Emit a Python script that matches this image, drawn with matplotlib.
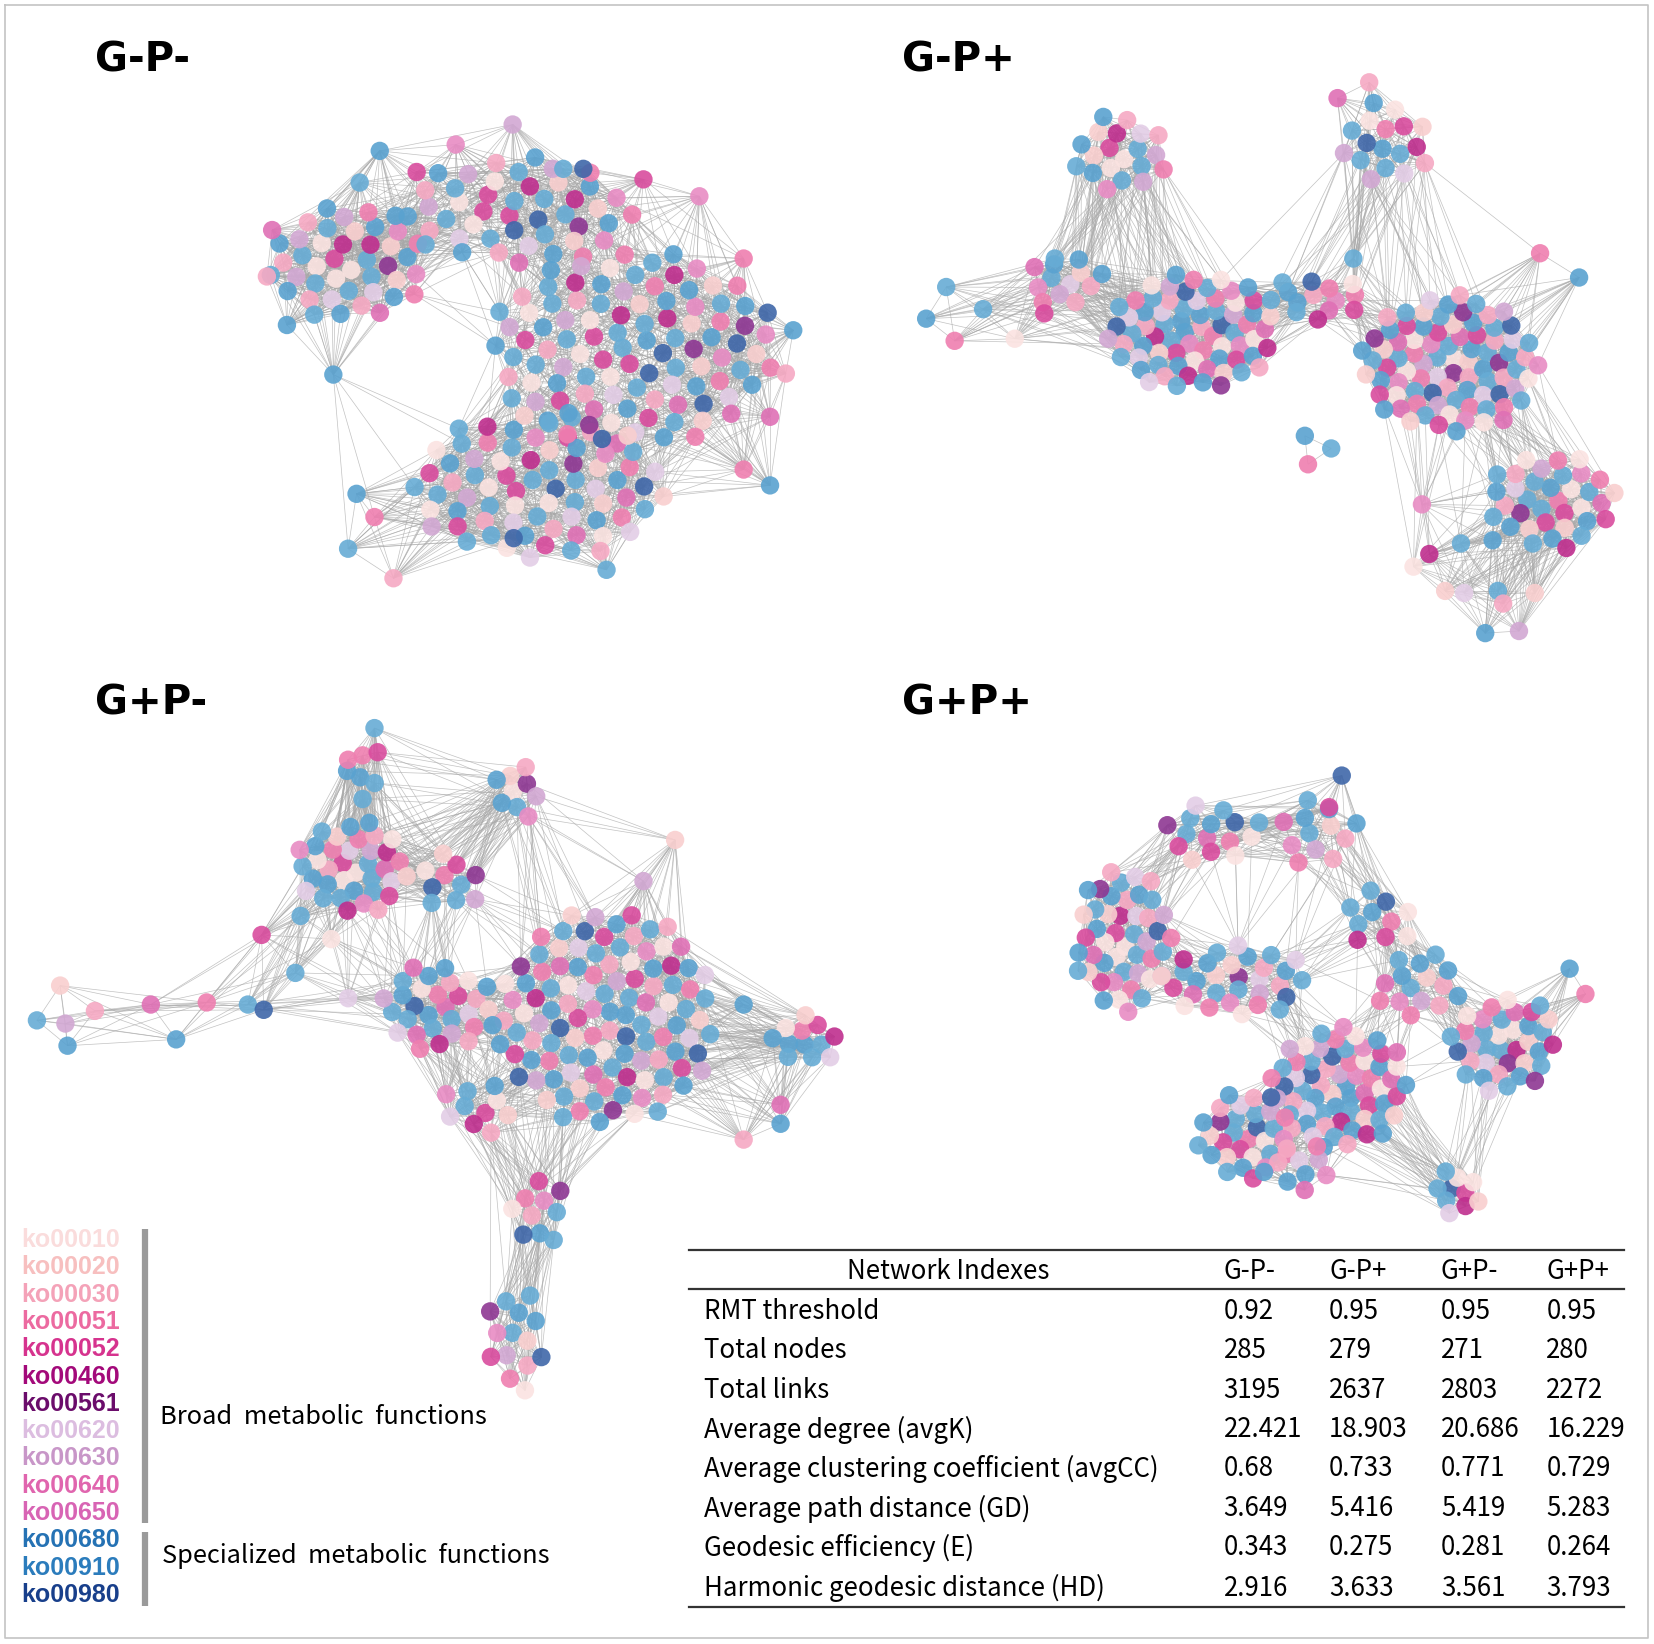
import numpy as np
import matplotlib
matplotlib.use("Agg")
from matplotlib import pyplot as plt
from matplotlib.collections import LineCollection

# ---- legend: KEGG pathways and colours ----
ko_names = ['ko00010', 'ko00020', 'ko00030', 'ko00051', 'ko00052', 'ko00460', 'ko00561',
            'ko00620', 'ko00630', 'ko00640', 'ko00650', 'ko00680', 'ko00910', 'ko00980']
ko_label_colors = ['#fadcdc', '#f7bfbf', '#f4a2b8', '#ec6aa0', '#d6338e', '#a3097a', '#6b0c6b',
                   '#dcbde0', '#c896c8', '#e065ae', '#d864b4', '#2572b4', '#2b7cbc', '#183f8b']
ko_node_colors = ['#fbe3e1', '#f9cfcf', '#f6a9c3', '#ef7fb0', '#d94c9e', '#bf2e8e', '#8e3793',
                  '#e3cde6', '#d2a8d3', '#e88cc4', '#df70b5', '#67acd5', '#5aa2d0', '#3f67a9']
group_names = ['Broad  metabolic  functions', 'Specialized  metabolic  functions']

# ---- table ----
panel_names = ['G-P-', 'G-P+', 'G+P-', 'G+P+']
index_names = ['RMT threshold', 'Total nodes', 'Total links', 'Average degree (avgK)',
               'Average clustering coefficient (avgCC)', 'Average path distance (GD)',
               'Geodesic efficiency (E)', 'Harmonic geodesic distance (HD)']
rmt = [0.92, 0.95, 0.95, 0.95]
total_nodes = [285, 279, 271, 280]
total_links = [3195, 2637, 2803, 2272]
avg_k = [22.421, 18.903, 20.686, 16.229]
avg_cc = [0.68, 0.733, 0.771, 0.729]
avg_gd = [3.649, 5.416, 5.419, 5.283]
geo_e = [0.343, 0.275, 0.281, 0.264]
harm_hd = [2.916, 3.633, 3.561, 3.793]

# node count per pathway in each network
ko_counts_gpm = [22, 18, 22, 20, 18, 10, 6, 14, 16, 12, 10, 60, 45, 12]
ko_counts_gpp = [24, 18, 24, 22, 16, 8, 6, 14, 14, 12, 10, 58, 45, 8]
ko_counts_gqm = [22, 16, 22, 22, 16, 8, 6, 14, 14, 10, 10, 56, 45, 10]
ko_counts_gqp = [24, 18, 22, 22, 16, 8, 6, 14, 14, 12, 10, 58, 44, 12]

# ---- network layouts (page pixels): dense modules as ellipses + loose nodes ----
gpm_blob_x = [330, 490, 600, 510]
gpm_blob_y = [250, 200, 330, 460]
gpm_blob_rx = [80, 120, 145, 130]
gpm_blob_ry = [60, 55, 100, 75]
gpm_blob_n = [42, 45, 100, 73]
gpm_pts_x = [486, 316, 373, 663, 752, 745, 432, 360, 253, 258, 272, 705, 730, 730, 705,
             330, 338, 355, 575, 487, 610, 534, 553, 395, 341]
gpm_pts_y = [118, 355, 548, 186, 313, 354, 137, 143, 262, 218, 308, 245, 395, 460, 445,
             520, 468, 490, 540, 510, 170, 160, 160, 163, 173]

gpp_blob_x = [1063, 1315, 1130, 1250, 1375, 1470, 1010]
gpp_blob_y = [145, 135, 315, 283, 345, 475, 265]
gpp_blob_rx = [48, 45, 85, 55, 90, 65, 40]
gpp_blob_ry = [42, 45, 60, 22, 70, 50, 28]
gpp_blob_n = [20, 17, 70, 14, 84, 35, 12]
gpp_pts_x = [897, 878, 905, 932, 962, 990, 1000, 1340, 1355, 1385, 1370, 1388, 1420, 1455,
             1440, 1408, 1425, 1348, 1415, 1298, 1268, 1497, 1460, 1283]
gpp_pts_y = [272, 302, 323, 293, 321, 297, 245, 537, 525, 515, 560, 562, 560, 562,
             598, 600, 572, 478, 512, 78, 93, 263, 240, 245]
gpp_iso_x = [1237, 1240, 1262]
gpp_iso_y = [413, 440, 425]

gqm_blob_x = [335, 345, 492, 425, 575, 415, 455, 765, 510, 490]
gqm_blob_y = [822, 730, 750, 835, 965, 955, 1050, 985, 1150, 1270]
gqm_blob_rx = [58, 22, 25, 35, 110, 60, 40, 35, 28, 32]
gqm_blob_ry = [48, 30, 30, 30, 110, 45, 28, 27, 40, 55]
gqm_blob_n = [36, 6, 9, 10, 111, 30, 10, 12, 10, 14]
gqm_pts_x = [35, 57, 62, 64, 90, 143, 167, 196, 235, 250, 248, 280, 314, 330, 285,
             640, 610, 705, 705, 740, 740, 330, 355]
gqm_pts_y = [967, 934, 970, 991, 958, 952, 985, 950, 952, 957, 886, 922, 890, 946, 868,
             796, 835, 952, 1080, 1047, 1065, 720, 690]

gqp_blob_x = [1065, 1150, 1250, 1305, 1170, 1270, 1180, 1425, 1345, 1380, 1230]
gqp_blob_y = [890, 790, 790, 870, 930, 1030, 1075, 990, 935, 1130, 1105]
gqp_blob_rx = [48, 55, 45, 40, 75, 70, 50, 55, 45, 25, 40]
gqp_blob_ry = [75, 30, 35, 30, 38, 62, 45, 48, 35, 25, 25]
gqp_blob_n = [45, 15, 12, 10, 30, 62, 30, 35, 15, 10, 10]
gqp_pts_x = [1488, 1503, 1460, 1272, 1260, 1022]
gqp_pts_y = [918, 942, 953, 735, 765, 920]

GOLDEN = np.pi * (3 - np.sqrt(5))
SANS = ['Noto Sans CJK SC', 'DejaVu Sans']


def blob_layout(bx, by, brx, bry, bn):
    xs, ys = [], []
    for j, (cx, cy, rx, ry, n) in enumerate(zip(bx, by, brx, bry, bn)):
        k = np.arange(n) + 0.5
        r = 0.95 * np.sqrt(k / n)
        th = k * GOLDEN + j
        xs.append(cx + rx * r * np.cos(th))
        ys.append(cy + ry * r * np.sin(th))
    return np.concatenate(xs), np.concatenate(ys)


def knn_edges(x, y, kk, dmax=170):
    P = np.column_stack([x, y])
    D = np.hypot(P[:, None, 0] - P[None, :, 0], P[:, None, 1] - P[None, :, 1])
    k1 = max(2, int(round(kk * 0.55)))
    k2 = int(round(kk * 0.45))
    edges = set()
    for i in range(len(P)):
        order = np.argsort(D[i])
        nb = list(order[1:1 + k1]) + list(order[1 + k1:1 + k1 + 4 * k2:4])
        for j in nb:
            if D[i, j] < dmax:
                edges.add((min(i, j), max(i, j)))
    return [[(x[i], y[i]), (x[j], y[j])] for i, j in edges]


def node_colors(n, counts):
    cats = np.repeat(np.arange(len(counts)), counts)
    cats = np.resize(cats, n)
    order = (np.arange(n) * 97) % n
    return [ko_node_colors[c] for c in cats[order]]


fig = plt.figure(figsize=(16.54, 16.44), dpi=100)
ax = fig.add_axes([0, 0, 1, 1])
ax.set_xlim(0, 1568)
ax.set_ylim(1558, 0)
ax.axis('off')

# outer frame
ax.plot([5, 1562, 1562, 5, 5], [5, 5, 1552, 1552, 5], color='#c4c4c4', lw=1.2)

networks = [
    (gpm_blob_x, gpm_blob_y, gpm_blob_rx, gpm_blob_ry, gpm_blob_n, gpm_pts_x, gpm_pts_y, [], [], ko_counts_gpm),
    (gpp_blob_x, gpp_blob_y, gpp_blob_rx, gpp_blob_ry, gpp_blob_n, gpp_pts_x, gpp_pts_y, gpp_iso_x, gpp_iso_y, ko_counts_gpp),
    (gqm_blob_x, gqm_blob_y, gqm_blob_rx, gqm_blob_ry, gqm_blob_n, gqm_pts_x, gqm_pts_y, [], [], ko_counts_gqm),
    (gqp_blob_x, gqp_blob_y, gqp_blob_rx, gqp_blob_ry, gqp_blob_n, gqp_pts_x, gqp_pts_y, [], [], ko_counts_gqp),
]

for p, (bx, by, brx, bry, bn, px, py, ix, iy, counts) in enumerate(networks):
    x, y = blob_layout(bx, by, brx, bry, bn)
    x = np.concatenate([x, px])
    y = np.concatenate([y, py])
    segs = knn_edges(x, y, avg_k[p])
    if len(ix):
        segs += knn_edges(np.array(ix, float), np.array(iy, float), 2)
        x = np.concatenate([x, ix])
        y = np.concatenate([y, iy])
    ax.add_collection(LineCollection(segs, colors='#a8a8a8', linewidths=0.5,
                                     alpha=0.7, zorder=1))
    cols = node_colors(len(x), counts)
    ax.scatter(x, y, s=175, c=cols, alpha=0.9, linewidths=0, zorder=2)

# panel titles
title_pos = [(90, 57), (855, 57), (90, 667), (855, 667)]
for name, (tx, ty) in zip(panel_names, title_pos):
    ax.text(tx, ty, name, fontsize=29, family='DejaVu Sans', fontweight='bold',
            ha='left', va='center')

# legend
for i, (name, col) in enumerate(zip(ko_names, ko_label_colors)):
    ax.text(20, 1175 + i * 25.9, name, color=col, fontsize=18, fontweight='bold',
            family='Liberation Sans', ha='left', va='center')
ax.plot([137, 137], [1165, 1443], color='#9a9a9a', lw=4.5, solid_capstyle='butt')
ax.plot([137, 137], [1452, 1522], color='#9a9a9a', lw=4.5, solid_capstyle='butt')
ax.text(152, 1343, group_names[0], fontsize=18.3, family=SANS,
        ha='left', va='center')
ax.text(154, 1475, group_names[1], fontsize=18.2, family=SANS,
        ha='left', va='center')

# table
tfont = dict(fontsize=18.6, family=SANS, va='center')
ax.plot([653, 1540], [1185, 1185], color='#333333', lw=1.6)
ax.plot([653, 1540], [1222, 1222], color='#333333', lw=1.6)
ax.plot([653, 1540], [1523, 1523], color='#333333', lw=1.6)
col_x = [1160, 1260, 1366, 1466]
ax.text(899, 1205, 'Network Indexes', ha='center', **tfont)
for cx, name in zip(col_x, panel_names):
    ax.text(cx, 1205, name, ha='left', **tfont)
rows = [rmt, total_nodes, total_links, avg_k, avg_cc, avg_gd, geo_e, harm_hd]
row_y = [1243, 1280, 1318, 1355, 1392, 1430, 1467, 1505]
for ry, label, vals in zip(row_y, index_names, rows):
    ax.text(667, ry, label, ha='left', **tfont)
    for cx, v in zip(col_x, vals):
        ax.text(cx, ry, f'{v:g}', ha='left', **tfont)

fig.savefig('out.png', dpi=100, facecolor='white')
